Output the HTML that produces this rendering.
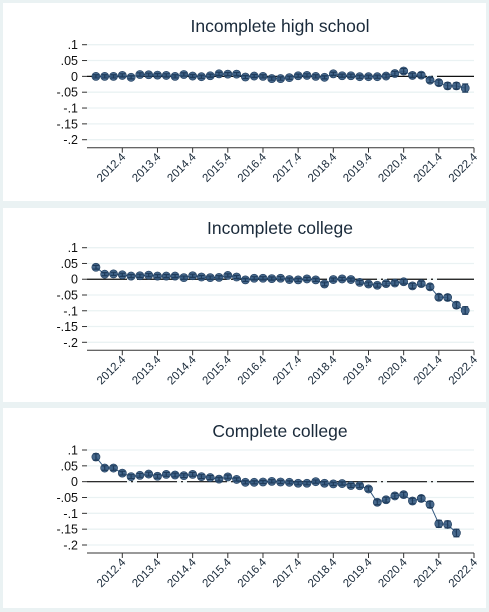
<!DOCTYPE html>
<html><head><meta charset="utf-8"><style>
html,body{margin:0;padding:0;background:#eaf2f3;}
svg{display:block;font-family:"Liberation Sans",Arial,sans-serif;}
</style></head><body>
<svg id="c" width="489" height="612" xmlns="http://www.w3.org/2000/svg"></svg>
<script>
const titles = ["Incomplete high school","Incomplete college","Complete college"];
const yTicks = [0.1,0.05,0,-0.05,-0.1,-0.15,-0.2];
const yTickLabels = [".1",".05","0","-.05","-.1","-.15","-.2"];
const xTickLabels = ["2012.4","2013.4","2014.4","2015.4","2016.4","2017.4","2018.4","2019.4","2020.4","2021.4","2022.4"];
const hsValues = [0,0,0,.003,-.003,.006,.005,.004,.003,0,.006,.001,-.001,.002,.008,.007,.007,-.002,.001,0,-.007,-.007,-.004,.002,.003,0,-.003,.008,.002,.002,-.001,-.001,-.001,.001,.009,.017,.003,.004,-.012,-.02,-.03,-.03,-.037];
const hsErr = [.005,.005,.005,.005,.005,.005,.005,.005,.005,.005,.005,.005,.005,.005,.005,.005,.005,.005,.005,.005,.005,.005,.005,.005,.005,.005,.005,.005,.005,.005,.005,.005,.005,.006,.007,.008,.007,.008,.008,.009,.01,.01,.013];
const icValues = [.038,.016,.017,.014,.01,.011,.013,.01,.01,.01,.005,.011,.007,.005,.006,.012,.007,-.002,.003,.003,.002,.003,-.001,-.002,.001,-.002,-.015,-.001,.001,-.001,-.01,-.015,-.019,-.014,-.012,-.008,-.021,-.014,-.024,-.057,-.058,-.082,-.099];
const icErr = [.006,.005,.005,.005,.005,.005,.005,.005,.005,.005,.005,.005,.005,.005,.005,.005,.005,.005,.005,.005,.005,.005,.005,.005,.005,.005,.006,.005,.005,.005,.006,.006,.006,.007,.007,.007,.008,.008,.009,.009,.009,.01,.012];
const ccValues = [.078,.043,.043,.027,.016,.02,.024,.017,.023,.021,.019,.023,.016,.013,.008,.015,.007,-.002,-.002,-.001,.001,-.001,-.002,-.005,-.005,0,-.005,-.007,-.006,-.012,-.013,-.023,-.065,-.057,-.045,-.041,-.061,-.053,-.072,-.133,-.135,-.162];
const ccErr = [.01,.007,.007,.006,.006,.006,.006,.006,.006,.006,.006,.006,.006,.006,.006,.006,.005,.005,.005,.005,.005,.005,.005,.005,.005,.005,.005,.005,.005,.006,.006,.007,.008,.008,.008,.008,.009,.009,.01,.011,.011,.012];
const seriesValues = [hsValues, icValues, ccValues];
const seriesErr = [hsErr, icErr, ccErr];

const NS="http://www.w3.org/2000/svg";
const svg=document.getElementById('c');
function mk(tag,attrs,parent){const e=document.createElementNS(NS,tag);for(const k in attrs)e.setAttribute(k,attrs[k]);(parent||svg).appendChild(e);return e;}

const panels=[
 {top:3,h:198,yTop:44.7,yBot:139.7,axis:147.7,title:26},
 {top:208,h:194,yTop:247.7,yBot:342.3,axis:350.3,title:228},
 {top:408,h:200,yTop:450,yBot:545,axis:553,title:431}
];
const xL=87,xR=474, x2012q4=122.3, pxPerQ=(474-122.3)/40;
function xScale(i){return x2012q4+(i-3)*pxPerQ;}
const col="#34597f", dark="#1f3c5c";

panels.forEach((p,k)=>{
  const g=mk('g',{});
  
  
  const bg=mk('rect',{x:3,y:p.top,width:483,height:p.h,fill:'#ffffff'},g);
  
  
  const yS=v=>p.yTop+(0.1-v)/0.3*(p.yBot-p.yTop);
  const t=mk('text',{x:280,y:p.title+6,'text-anchor':'middle','font-size':'17.5',fill:'#1a2a3a'},g);
  t.textContent=titles[k];
  
  
  yTicks.forEach((v,i)=>{
    const y=yS(v);
    const gl=mk('line',{x1:xL,x2:xR,y1:y,y2:y,stroke:'#eaf2f3','stroke-width':1.3},g);
    
    
    mk('line',{x1:xL-5,x2:xL,y1:y,y2:y,stroke:'#333','stroke-width':1},g);
    const lb=mk('text',{x:xL-9,y:y+4.5,'text-anchor':'end','font-size':'12.5',fill:'#111'},g);
    lb.textContent=yTickLabels[i];
    
    
  });
  const ax=mk('line',{x1:xL,x2:xR,y1:p.axis,y2:p.axis,stroke:'#333','stroke-width':1},g);
  
  
  xTickLabels.forEach((lab,i)=>{
    const x=xScale(3+4*i);
    mk('line',{x1:x,x2:x,y1:p.axis,y2:p.axis+5,stroke:'#333','stroke-width':1},g);
    const tl=mk('text',{x:x+4,y:p.axis+10,'text-anchor':'end','font-size':'11.5',fill:'#1a2a3a',transform:`rotate(-45 ${x+4} ${p.axis+10})`},g);
    tl.textContent=lab;
    
    
  });
  const z=mk('line',{x1:xL,x2:xR,y1:yS(0),y2:yS(0),stroke:'#111','stroke-width':1.2,'stroke-dasharray':'40,4,2,4'},g);
  
  
  const vals=seriesValues[k], errs=seriesErr[k];
  const pts=vals.map((v,i)=>xScale(i)+','+yS(v)).join(' ');
  const pl=mk('polyline',{points:pts,fill:'none',stroke:col,'stroke-width':1},g);
  
  
  vals.forEach((v,i)=>{
    const x=xScale(i),y1=yS(v+errs[i]),y2=yS(v-errs[i]);
    const c=mk('circle',{cx:x,cy:yS(v),r:4.1,fill:col,stroke:dark,'stroke-width':0.6,'fill-opacity':0.9},g);
    
    
    const eb=mk('path',{d:`M${x},${y1}V${y2}M${x-3},${y1}H${x+3}M${x-3},${y2}H${x+3}`,stroke:dark,'stroke-width':1.2,fill:'none'},g);
    
    
  });
});
</script>
</body></html>
